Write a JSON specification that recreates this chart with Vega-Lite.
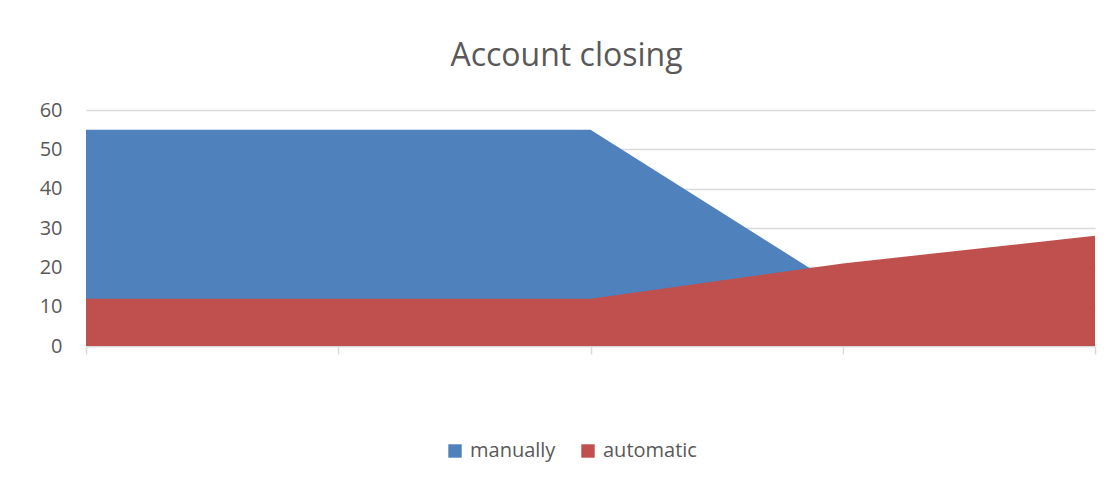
{
  "$schema": "https://vega.github.io/schema/vega-lite/v6.json",
  "width": 1009,
  "height": 236,
  "autosize": {"type": "none"},
  "padding": {"left": 86, "top": 110, "right": 23, "bottom": 139},
  "background": "white",
  "config": {
    "view": {"stroke": null},
    "font": "Lato"
  },
  "title": {
    "text": "Account closing",
    "fontSize": 32,
    "fontWeight": "normal",
    "color": "#595959",
    "font": "Open Sans",
    "anchor": "middle",
    "dx": -24,
    "offset": 27
  },
  "data": {
    "values": [
      {"step": 1, "series": "manually", "value": 55},
      {"step": 2, "series": "manually", "value": 55},
      {"step": 3, "series": "manually", "value": 55},
      {"step": 4, "series": "manually", "value": 14.5},
      {"step": 5, "series": "manually", "value": 10},
      {"step": 1, "series": "automatic", "value": 12},
      {"step": 2, "series": "automatic", "value": 12},
      {"step": 3, "series": "automatic", "value": 12},
      {"step": 4, "series": "automatic", "value": 21},
      {"step": 5, "series": "automatic", "value": 28}
    ]
  },
  "encoding": {
    "x": {
      "field": "step",
      "type": "ordinal",
      "scale": {"type": "point", "padding": 0},
      "axis": {
        "title": null,
        "labels": false,
        "domainColor": "#d9d9d9",
        "domainWidth": 1.5,
        "tickColor": "#d9d9d9",
        "tickSize": 8,
        "tickWidth": 1.5
      }
    },
    "y": {
      "field": "value",
      "type": "quantitative",
      "stack": null,
      "scale": {"domain": [0, 60], "nice": false},
      "axis": {
        "title": null,
        "values": [0, 10, 20, 30, 40, 50, 60],
        "domain": false,
        "ticks": false,
        "gridColor": "#d9d9d9",
        "gridWidth": 1.5,
        "labelFontSize": 20,
        "labelColor": "#595959",
        "labelFont": "Open Sans",
        "labelPadding": 24
      }
    },
    "color": {
      "field": "series",
      "type": "nominal",
      "scale": {"domain": ["manually", "automatic"], "range": ["#4F81BD", "#C0504D"]},
      "legend": {
        "title": null,
        "orient": "none",
        "direction": "horizontal",
        "legendX": 359,
        "legendY": 331,
        "symbolType": "square",
        "symbolSize": 180,
        "symbolStrokeWidth": 0,
        "symbolOpacity": 1,
        "labelFontSize": 20,
        "labelColor": "#595959",
        "labelFont": "Open Sans",
        "columnPadding": 22,
        "labelOffset": 5
      }
    }
  },
  "layer": [
    {
      "transform": [{"filter": "datum.series === 'manually'"}],
      "mark": {"type": "area", "opacity": 1, "interpolate": "linear"}
    },
    {
      "transform": [{"filter": "datum.series === 'automatic'"}],
      "mark": {"type": "area", "opacity": 1, "interpolate": "linear"}
    }
  ]
}
